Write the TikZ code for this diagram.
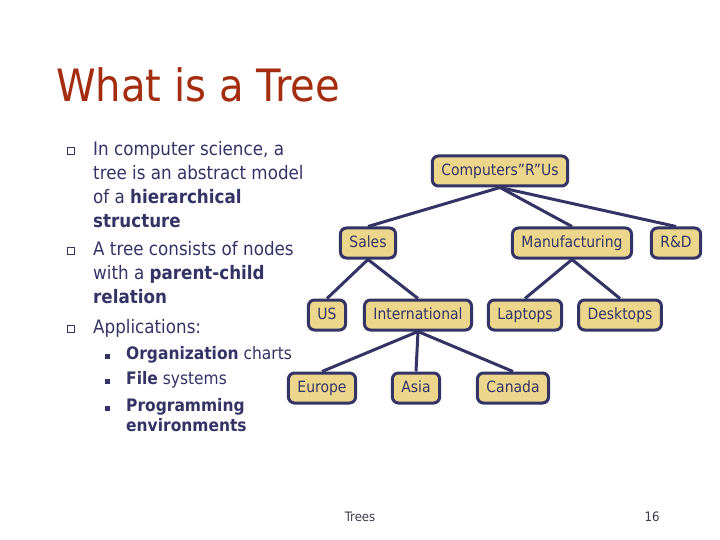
\documentclass[tikz,border=0pt]{standalone}
\usepackage{fontspec}
\setmainfont{DejaVu Sans}[FakeStretch=0.9]
\usepackage{tikz}
\definecolor{titlered}{RGB}{165,45,15}
\definecolor{navy}{RGB}{51,51,102}
\definecolor{khaki}{RGB}{236,214,140}
\definecolor{footgray}{RGB}{60,60,80}
\tikzset{
  orgnode/.style={draw=navy, line width=3pt, fill=khaki, rounded corners=6pt,
    minimum height=30pt, inner xsep=9pt, text height=11.5pt, text depth=3pt,
    text=navy, font=\fontsize{15.5}{18}\selectfont},
  orgedge/.style={draw=navy, line width=3pt},
  bodytext/.style={text=navy, align=left, anchor=north west, inner sep=0pt,
    font=\fontsize{18.6}{24}\selectfont},
  subtext/.style={text=navy, align=left, anchor=north west, inner sep=0pt,
    font=\fontsize{17.2}{20.5}\selectfont},
  hollowbox/.style={draw=navy, line width=0.8pt, minimum size=6.5pt, inner sep=0pt},
  filledbox/.style={fill=navy, minimum size=5pt, inner sep=0pt}
}

\begin{document}
\begin{tikzpicture}[x=1pt,y=-1pt]
 \path[fill=white,use as bounding box] (0,0) rectangle (720,540);

 % title
 \node[anchor=base west, inner sep=0pt, text=titlered, font=\fontsize{44.6}{50}\selectfont] (title) at (56,102) {What is a Tree};

 % bullets
 \node[hollowbox] (q1) at (71,151) {};
 \node[bodytext] (item1) at (93,141) {In computer science, a\\tree is an abstract model\\of a \textbf{hierarchical}\\\textbf{structure}};
 \node[hollowbox] (q2) at (71,251) {};
 \node[bodytext] (item2) at (93,241) {A tree consists of nodes\\with a \textbf{parent-child}\\\textbf{relation}};
 \node[hollowbox] (q3) at (71,329) {};
 \node[bodytext] (item3) at (93,319) {Applications:};

 \node[filledbox] (n1) at (107,356) {};
 \node[subtext] (sub1) at (126,346) {\textbf{Organization} charts};
 \node[filledbox] (n2) at (107,381) {};
 \node[subtext] (sub2) at (126,371) {\textbf{File} systems};
 \node[filledbox] (n3) at (107,408) {};
 \node[subtext] (sub3) at (126,398) {\textbf{Programming}\\\textbf{environments}};

 % the tree
 \node[orgnode] (root) at (500,171) {Computers”R”Us};
 \node[orgnode] (sales) at (368,243) {Sales};
 \node[orgnode] (manuf) at (572,243) {Manufacturing};
 \node[orgnode] (rnd) at (676,243) {R\&D};
 \node[orgnode] (us) at (327,315) {US};
 \node[orgnode] (intl) at (418,315) {International};
 \node[orgnode] (laptops) at (525,315) {Laptops};
 \node[orgnode] (desktops) at (620,315) {Desktops};
 \node[orgnode] (europe) at (322,388) {Europe};
 \node[orgnode] (asia) at (416,388) {Asia};
 \node[orgnode] (canada) at (513,388) {Canada};

 \draw[orgedge] (root.south) -- (sales.north);
 \draw[orgedge] (root.south) -- (manuf.north);
 \draw[orgedge] (root.south) -- (rnd.north);
 \draw[orgedge] (sales.south) -- (us.north);
 \draw[orgedge] (sales.south) -- (intl.north);
 \draw[orgedge] (manuf.south) -- (laptops.north);
 \draw[orgedge] (manuf.south) -- (desktops.north);
 \draw[orgedge] (intl.south) -- (europe.north);
 \draw[orgedge] (intl.south) -- (asia.north);
 \draw[orgedge] (intl.south) -- (canada.north);

 % footer
 \node[text=footgray, font=\fontsize{13}{15}\selectfont] (foot) at (360,517) {Trees};
 \node[text=footgray, font=\fontsize{13}{15}\selectfont] (page) at (652,517) {16};
\end{tikzpicture}
\end{document}
